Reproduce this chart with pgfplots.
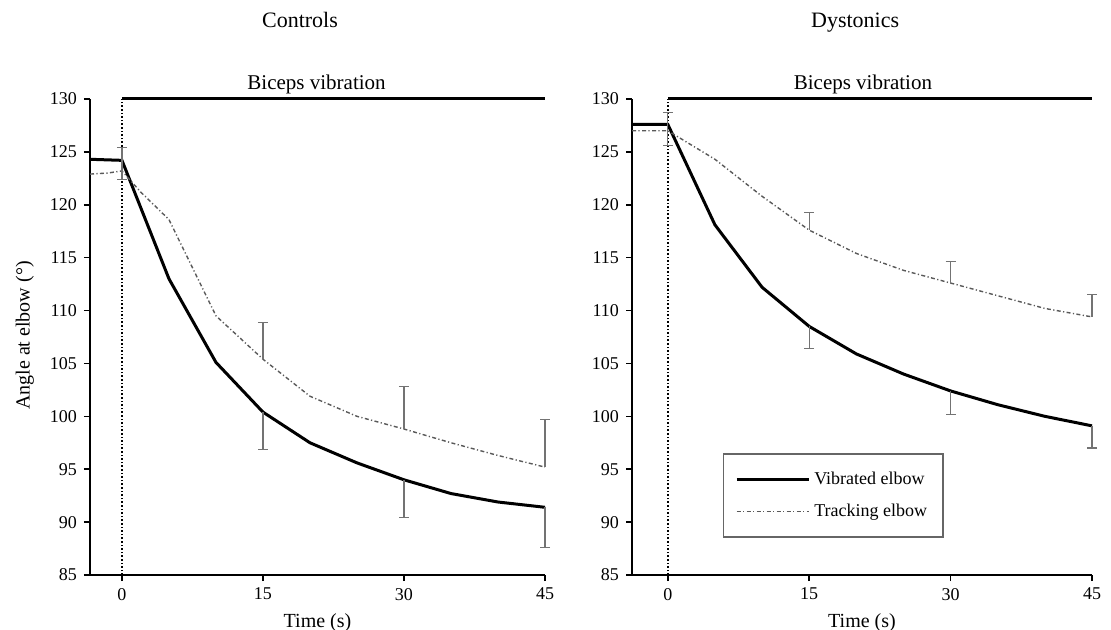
\documentclass[border=0pt]{standalone}
\usepackage{fontspec}
\setmainfont{Liberation Serif}
\usepackage{pgfplots}
\pgfplotsset{compat=1.18}
\pgfplotsset{
 panel/.style={
  scale only axis, width=227.5pt, height=238pt,
  axis x line=bottom, axis y line=left, axis line style={-, line width=1pt},
  ymin=85, ymax=130, ytick={85,90,...,130}, xtick={0,15,30,45}, xmax=45,
  tick align=outside, major tick length=3pt, tick style={line width=0.8pt, black},
  /pgf/number format/assume math mode=true,
  tick label style={font=\fontsize{9}{10}\selectfont},
  label style={font=\fontsize{10}{12}\selectfont},
  xlabel={Time (s)},
  title style={font=\fontsize{11}{13}\selectfont},
  clip=false,
 },
 vib/.style={black, line width=1.5pt, mark=none},
 trk/.style={black!65, line width=0.7pt, mark=none, dash pattern=on 2pt off 1.2pt on 0.6pt off 1.2pt},
 ebminus/.style={forget plot, draw=none, no markers,
   error bars/y dir=minus, error bars/y explicit,
   error bars/error bar style={draw=black!55, line width=0.6pt},
   error bars/error mark options={draw=black!55, mark size=2.5pt, line width=0.6pt, rotate=90}},
 ebplus/.style={forget plot, draw=none, no markers,
   error bars/y dir=plus, error bars/y explicit,
   error bars/error bar style={draw=black!55, line width=0.6pt},
   error bars/error mark options={draw=black!55, mark size=2.5pt, line width=0.6pt, rotate=90}},
}
\begin{document}
\begin{tikzpicture}
% ---------------- Controls ----------------
\begin{axis}[panel, name=L, at={(0pt,0pt)}, anchor=south west,
  xmin=-3.4,
  ylabel={Angle at elbow (°)},
  ylabel style={at={(axis description cs:-0.143,0.503)}, anchor=center},
  title={Controls}, title style={at={(axis description cs:0.4615,1.124)}, anchor=base},
]
\addplot[forget plot, black, line width=1.5pt, mark=none] coordinates {(0,130) (45,130)};
\addplot[forget plot, black, line width=0.8pt, densely dotted, mark=none] coordinates {(0,85) (0,130)};
\addplot[vib] coordinates {(-3.4,124.3) (0,124.2) (5,113.0) (10,105.1) (15,100.4) (20,97.5) (25,95.6) (30,94.0) (35,92.7) (40,91.9) (45,91.4)};
\addplot[trk] coordinates {(-3.4,122.9) (-1.5,123.0) (0,123.2) (2,121.2) (5,118.6) (10,109.5) (15,105.4) (20,101.9) (25,100.0) (30,98.8) (35,97.5) (40,96.3) (45,95.2)};
\addplot[ebminus] coordinates {(0,124.2) -= (0,1.8) (15,100.4) -= (0,3.5) (30,94.0) -= (0,3.6) (45,91.4) -= (0,3.8)};
\addplot[ebplus] coordinates {(0,123.2) += (0,2.2) (15,105.4) += (0,3.5) (30,98.8) += (0,4.0) (45,95.2) += (0,4.5)};
\node[anchor=south, font=\fontsize{10.5}{12}\selectfont, inner sep=1pt, yshift=1.5pt] at (axis cs:20.7,130) {Biceps vibration};
\end{axis}
% ---------------- Dystonics ----------------
\begin{axis}[panel, name=R, at={(271pt,0pt)}, anchor=south west,
  width=230pt, xmin=-3.8,
  title={Dystonics}, title style={at={(axis description cs:0.485,1.124)}, anchor=base},
  legend style={at={(axis cs:5.8,96.5)}, anchor=north west, draw=black!60, line width=0.8pt,
    font=\fontsize{9}{10}\selectfont, inner xsep=6pt, inner ysep=7pt, row sep=4pt,
    cells={anchor=west}},
  legend image code/.code={\draw[#1] (0pt,0pt) -- (28pt,0pt); \path (0pt,0pt) -- (36pt,0pt);},
]
\addplot[forget plot, black, line width=1.5pt, mark=none] coordinates {(0,130) (45,130)};
\addplot[forget plot, black, line width=0.8pt, densely dotted, mark=none] coordinates {(0,85) (0,130)};
\addplot[vib] coordinates {(-3.8,127.6) (0,127.6) (5,118.1) (10,112.2) (15,108.5) (20,105.9) (25,104.0) (30,102.4) (35,101.1) (40,100.0) (45,99.1)};
\addlegendentry{Vibrated elbow\hspace{8pt}}
\addplot[trk] coordinates {(-3.8,127.0) (0,127.0) (5,124.3) (10,120.8) (15,117.6) (20,115.4) (25,113.8) (30,112.6) (35,111.4) (40,110.2) (45,109.4)};
\addlegendentry{Tracking elbow\hspace{8pt}}
\addplot[ebminus] coordinates {(0,127.6) -= (0,2.0) (15,108.5) -= (0,2.1) (30,102.4) -= (0,2.2) (45,99.1) -= (0,2.1)};
\addplot[ebplus] coordinates {(0,127.0) += (0,1.7) (15,117.6) += (0,1.7) (30,112.6) += (0,2.0) (45,109.4) += (0,2.1)};
\node[anchor=south, font=\fontsize{10.5}{12}\selectfont, inner sep=1pt, yshift=1.5pt] at (axis cs:20.7,130) {Biceps vibration};
\end{axis}
\pgfresetboundingbox
\path (-45pt,-27.5pt) rectangle (510.5pt,287.5pt);
\end{tikzpicture}
\end{document}
